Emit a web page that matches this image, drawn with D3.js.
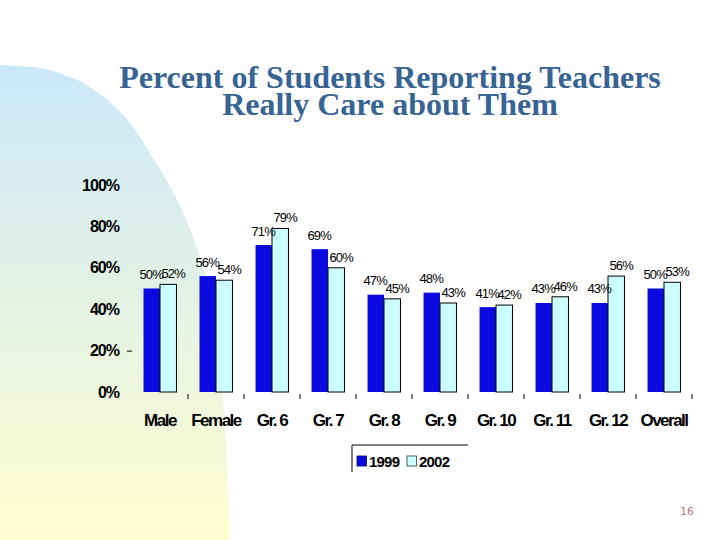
<!DOCTYPE html>
<html><head><meta charset="utf-8">
<script src="https://cdn.jsdelivr.net/npm/d3@7/dist/d3.min.js"></script>
<style>body{margin:0;background:#fff;overflow:hidden} svg{display:block}</style>
</head><body>
<script>
const categories = ["Male","Female","Gr. 6","Gr. 7","Gr. 8","Gr. 9","Gr. 10","Gr. 11","Gr. 12","Overall"];
const years = ["1999","2002"];
const values1999 = [50,56,71,69,47,48,41,43,43,50];
const values2002 = [52,54,79,60,45,43,42,46,56,53];
const yTicks = [0,20,40,60,80,100];
const titleLines = ["Percent of Students Reporting Teachers","Really Care about Them"];
const pageNumber = "16";

const W = 720, H = 540;
const colors = {"1999":"#0a0ae0","2002":"#ccffff"};
const svg = d3.select("body").append("svg").attr("width",W).attr("height",H);

// background decoration
const defs = svg.append("defs");
const grad = defs.append("linearGradient").attr("id","bg").attr("x1",0).attr("y1",0).attr("x2",0).attr("y2",1);
grad.append("stop").attr("offset","0%").attr("stop-color","#cbe8fa");
grad.append("stop").attr("offset","45%").attr("stop-color","#e2f1e6");
grad.append("stop").attr("offset","100%").attr("stop-color","#fffdd0");
const edge = [[0,65],[33,67],[67,76],[98,93],[125,117],[148,150],[172,190],[193,237],[208,283],[217,333],[223,400],[228,483],[230,540]];
const edgeLine = d3.line().curve(d3.curveMonotoneY);
svg.append("path")
  .attr("d", edgeLine(edge) + "L0,540Z")
  .attr("fill","url(#bg)");

// title
const title = svg.append("text").attr("text-anchor","middle")
  .attr("font-family","'Liberation Serif','Times New Roman',serif")
  .attr("font-weight","bold").attr("font-size",32).attr("fill","#376492");
titleLines.forEach((t,i)=>{
  title.append("tspan").attr("x",390).attr("y",88+i*27).text(t);
});

// scales
const x0 = d3.scaleBand().domain(categories).range([132,692]);
const x1 = d3.scaleBand().domain(years).range([0,x0.bandwidth()]).paddingOuter(0.7);
const y = d3.scaleLinear().domain([0,100]).range([392,185]);

const rows = categories.map((c,i)=>({cat:c, vals:[{year:"1999",v:values1999[i]},{year:"2002",v:values2002[i]}]}));

// y axis
const yAxis = svg.append("g").attr("transform","translate(132,0)")
  .call(d3.axisLeft(y).tickValues(yTicks).tickFormat(d=>d+"%").tickSize(5).tickPadding(8));
yAxis.select(".domain").remove();
yAxis.selectAll(".tick line").attr("stroke","#000").attr("stroke-opacity",d=>d===20?1:0);
yAxis.selectAll(".tick text")
  .attr("font-family","'Liberation Sans',Arial,sans-serif")
  .attr("font-weight","bold").attr("font-size",16).attr("letter-spacing",-1).attr("fill","#000");

// x axis labels
const xAxis = svg.append("g").attr("transform","translate(0,392)")
  .call(d3.axisBottom(x0).tickSize(0).tickPadding(22));
xAxis.select(".domain").remove();
xAxis.selectAll(".tick text")
  .attr("font-family","'Liberation Sans',Arial,sans-serif")
  .attr("font-weight","bold").attr("font-size",17).attr("letter-spacing",-1.5).attr("fill","#000");

// boundary ticks
svg.append("g").selectAll("line").data(categories).join("line")
  .attr("x1",d=>x0(d)+x0.bandwidth()).attr("x2",d=>x0(d)+x0.bandwidth())
  .attr("y1",394).attr("y2",399).attr("stroke","#000").attr("stroke-width",1);

// bars
const groups = svg.append("g").selectAll("g").data(rows).join("g")
  .attr("transform",d=>`translate(${x0(d.cat)},0)`);
groups.selectAll("rect").data(d=>d.vals).join("rect")
  .attr("x",d=>x1(d.year)).attr("width",x1.bandwidth())
  .attr("y",d=>y(d.v)).attr("height",d=>y(0)-y(d.v))
  .attr("fill",d=>colors[d.year])
  .attr("stroke",d=>d.year==="2002"?"#000":"none").attr("stroke-width",1);

// data labels
groups.selectAll("text.lbl").data(d=>d.vals).join("text").attr("class","lbl")
  .attr("x",d=>x1(d.year)+x1.bandwidth()/2+(d.year==="2002"?5:-0.5))
  .attr("y",d=>y(d.v)-(d.year==="2002"?6:9.5))
  .attr("text-anchor","middle")
  .attr("font-family","'Liberation Sans',Arial,sans-serif")
  .attr("font-size",13).attr("letter-spacing",-0.8).attr("fill","#000")
  .text(d=>d.v+"%");

// legend
const lg = svg.append("g");
lg.append("path").attr("d","M352,472V445H468").attr("fill","none").attr("stroke","#000").attr("stroke-width",1);
const items = lg.selectAll("g").data(years).join("g")
  .attr("transform",(d,i)=>`translate(${357+i*50},456)`);
items.append("rect").attr("width",9.5).attr("height",10)
  .attr("fill",d=>colors[d]).attr("stroke",d=>d==="2002"?"#333":"#000060").attr("stroke-width",0.8);
items.append("text").attr("x",12).attr("y",10.5)
  .attr("font-family","'Liberation Sans',Arial,sans-serif")
  .attr("font-weight","bold").attr("font-size",15).attr("letter-spacing",-0.8).attr("fill","#000")
  .text(d=>d);

// page number
svg.append("text").attr("x",687).attr("y",515).attr("text-anchor","middle")
  .attr("font-family","'DejaVu Sans',sans-serif").attr("font-size",11).attr("fill","#c07585")
  .text(pageNumber);
</script>
</body></html>
